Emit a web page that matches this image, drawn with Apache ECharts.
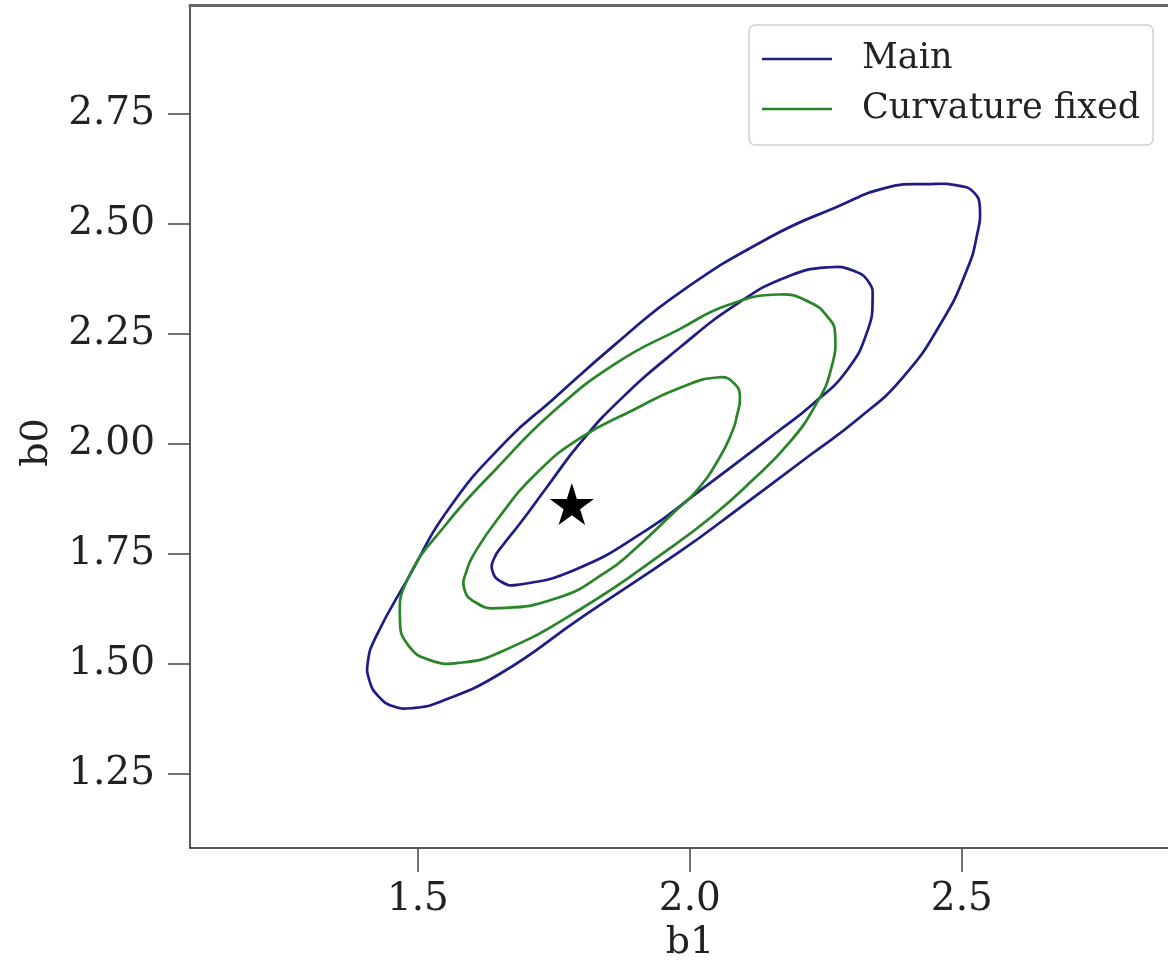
<!DOCTYPE html>
<html>
<head>
<meta charset="utf-8">
<script src="https://cdn.jsdelivr.net/npm/echarts@6/dist/echarts.min.js"></script>
<style>
  html, body { margin: 0; padding: 0; background: #fff; }
  #chart { width: 1168px; height: 969px; }
</style>
</head>
<body>
<div id="chart"></div>
<script>
// contour outlines, [b1, b0], each one a closed loop
const mainOuter = [
  [2.533, 2.540], [2.527, 2.470], [2.509, 2.395], [2.465, 2.282], [2.392, 2.152],
  [2.310, 2.058], [2.220, 1.974], [2.086, 1.850], [1.982, 1.756], [1.803, 1.608],
  [1.651, 1.478], [1.540, 1.414], [1.490, 1.400], [1.455, 1.404], [1.428, 1.426],
  [1.411, 1.462], [1.408, 1.505], [1.422, 1.560], [1.480, 1.691], [1.559, 1.857],
  [1.664, 2.009], [1.745, 2.098], [1.866, 2.230], [1.982, 2.345], [2.147, 2.470],
  [2.270, 2.539], [2.362, 2.583], [2.441, 2.591], [2.496, 2.587], [2.522, 2.572]
]
const mainInner = [
  [2.336, 2.334], [2.327, 2.259], [2.289, 2.168], [2.225, 2.090], [2.160, 2.027],
  [2.013, 1.889], [1.921, 1.805], [1.790, 1.715], [1.682, 1.680], [1.652, 1.688],
  [1.637, 1.712], [1.640, 1.740], [1.656, 1.770], [1.688, 1.820], [1.737, 1.902],
  [1.798, 2.002], [1.871, 2.100], [1.982, 2.220], [2.086, 2.318], [2.178, 2.380],
  [2.257, 2.402], [2.303, 2.393], [2.329, 2.368]
]
const fixedOuter = [
  [2.267, 2.252], [2.259, 2.168], [2.233, 2.093], [2.184, 2.005], [2.110, 1.912],
  [2.040, 1.835], [1.963, 1.763], [1.803, 1.628], [1.651, 1.527], [1.577, 1.503],
  [1.522, 1.509], [1.482, 1.543], [1.467, 1.600], [1.480, 1.690], [1.550, 1.815],
  [1.645, 1.945], [1.750, 2.075], [1.866, 2.185], [1.982, 2.262], [2.070, 2.316],
  [2.165, 2.340], [2.221, 2.322], [2.254, 2.288]
]
const fixedInner = [
  [2.092, 2.107], [2.086, 2.062], [2.079, 2.032], [2.055, 1.970], [2.013, 1.895],
  [1.969, 1.843], [1.895, 1.757], [1.847, 1.710], [1.756, 1.650], [1.645, 1.627],
  [1.605, 1.641], [1.585, 1.672], [1.590, 1.714], [1.603, 1.750], [1.645, 1.827],
  [1.719, 1.935], [1.800, 2.015], [1.895, 2.077], [1.982, 2.128], [2.055, 2.152],
  [2.083, 2.136]
]
const bestFit = [[1.783, 1.864]]

const xTicks = [1.5, 2.0, 2.5]
const yTicks = [1.25, 1.5, 1.75, 2.0, 2.25, 2.5, 2.75]

const MAIN = '#1d1d85'
const FIXED = '#2a852a'
const FONT = 'DejaVu Serif'
const STAR = 'path://M50,0 L61,35 L98,35 L68,57 L79,91 L50,70 L21,91 L32,57 L2,35 L39,35 Z'

// one closed smooth outline per series, placed with the grid's own axes
function contour(name, data, color) {
  return {
    type: 'custom',
    name: name,
    coordinateSystem: 'cartesian2d',
    data: data,
    itemStyle: { color: color },
    z: 3,
    renderItem: function(params, api) {
      if (params.dataIndex !== 0) {
        return
      }
      return {
        type: 'polygon',
        shape: { points: data.map(p => api.coord(p)), smooth: 0.5 },
        style: { fill: 'none', stroke: color, lineWidth: 2.7 }
      }
    }
  }
}

const chart = echarts.init(document.getElementById('chart'))
chart.setOption({
  backgroundColor: '#fff',
  animation: false,
  grid: { left: 190, right: 0, top: 5, bottom: 121, containLabel: false },
  legend: {
    orient: 'vertical',
    left: 749,
    top: 25,
    data: [
      { name: 'Main', icon: 'rect' },
      { name: 'Curvature fixed', icon: 'rect' }
    ],
    itemWidth: 70,
    itemHeight: 2.6,
    itemGap: 10,
    padding: [14, 13, 16, 13],
    borderColor: '#d0d0d0',
    borderWidth: 1.5,
    borderRadius: 6,
    backgroundColor: '#fff',
    textStyle: { fontFamily: FONT, fontSize: 35, color: '#222', lineHeight: 40, padding: [0, 0, 0, 25] }
  },
  xAxis: [{
    type: 'value',
    min: 1.081,
    max: 2.879,
    name: 'b1',
    nameLocation: 'middle',
    nameGap: 70,
    nameTextStyle: { fontFamily: FONT, fontSize: 38, color: '#222', padding: [0, 0, 0, 22] },
    axisLine: { lineStyle: { color: '#222', width: 1.5 } },
    axisTick: { customValues: xTicks, length: 24, lineStyle: { color: '#444', width: 1.5 } },
    axisLabel: {
      customValues: xTicks,
      margin: 32,
      fontFamily: FONT, fontSize: 39, color: '#222',
      formatter: v => v.toFixed(1)
    },
    splitLine: { show: false }
  }, {
    type: 'value',
    position: 'top',
    min: 1.081,
    max: 2.879,
    axisLine: { lineStyle: { color: '#666', width: 3 } },
    axisTick: { show: false },
    axisLabel: { show: false },
    splitLine: { show: false }
  }],
  yAxis: {
    type: 'value',
    min: 1.082,
    max: 2.998,
    name: 'b0',
    nameLocation: 'middle',
    nameGap: 134,
    nameTextStyle: { fontFamily: FONT, fontSize: 38, color: '#222', padding: [0, 32, 0, 0] },
    axisLine: { show: true, lineStyle: { color: '#222', width: 1.5 } },
    axisTick: { show: true, customValues: yTicks, length: 22, lineStyle: { color: '#444', width: 1.5 } },
    axisLabel: {
      customValues: yTicks,
      margin: 35,
      fontFamily: FONT, fontSize: 39, color: '#222',
      formatter: v => v.toFixed(2)
    },
    splitLine: { show: false }
  },
  series: [
    contour('Main', mainOuter, MAIN),
    contour('Main', mainInner, MAIN),
    contour('Curvature fixed', fixedOuter, FIXED),
    contour('Curvature fixed', fixedInner, FIXED),
    {
      type: 'scatter',
      name: 'best',
      data: bestFit,
      symbol: STAR,
      symbolSize: [44, 42],
      itemStyle: { color: '#000', opacity: 1 },
      z: 5
    }
  ]
})
</script>
</body>
</html>
